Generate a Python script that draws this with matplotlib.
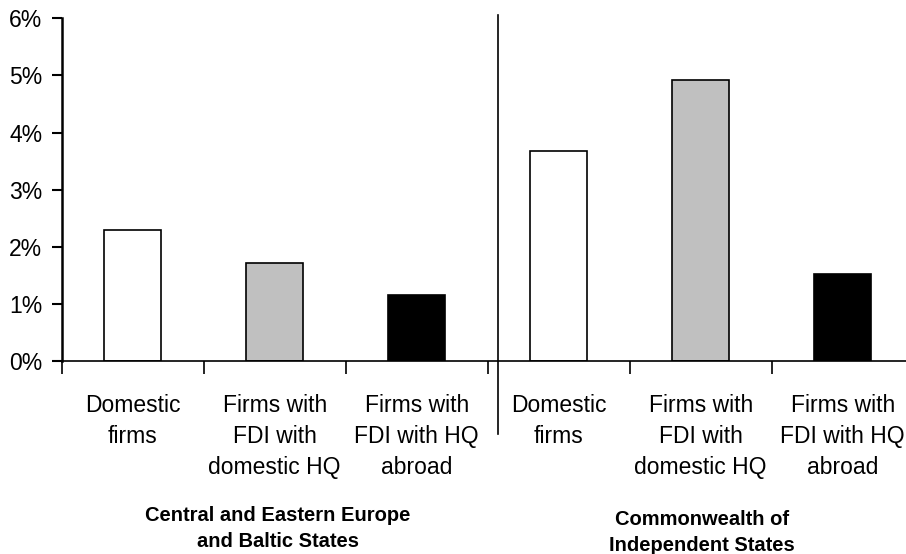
import matplotlib.pyplot as plt
from matplotlib.ticker import PercentFormatter

plt.rcParams['font.family'] = ['Liberation Sans', 'DejaVu Sans']

# categories and values (share, %)
categories = ["Domestic\nfirms", "Firms with\nFDI with\ndomestic HQ", "Firms with\nFDI with HQ\nabroad",
              "Domestic\nfirms", "Firms with\nFDI with\ndomestic HQ", "Firms with\nFDI with HQ\nabroad"]
values = [2.29, 1.71, 1.15, 3.68, 4.92, 1.53]
colors = ["white", "#c0c0c0", "black", "white", "#c0c0c0", "black"]
groups = ["Central and Eastern Europe\nand Baltic States", "Commonwealth of\nIndependent States"]

fig = plt.figure(figsize=(9.06, 5.54), dpi=100)
ax = fig.add_axes([0.0681, 0.3484, 0.9404, 0.6186])

x = range(len(values))
ax.bar(x, values, width=0.4, color=colors, edgecolor="black", linewidth=1.2)

ax.set_xlim(-0.5, 5.5)
ax.set_ylim(0, 6)
ax.yaxis.set_major_formatter(PercentFormatter(decimals=0))
ax.set_yticks(range(0, 7))
ax.tick_params(axis="y", length=7, width=1.5, labelsize=16.5, pad=7, direction="out")

# category labels at bar centres, tick marks at boundaries
ax.set_xticks(list(x))
ax.set_xticklabels(categories, fontsize=16.5, linespacing=1.43)
ax.tick_params(axis="x", which="major", length=0, pad=24)
ax.set_xticks([i - 0.5 for i in range(6)], minor=True)
ax.tick_params(axis="x", which="minor", length=9, width=1.2, direction="out")

for s in ["top", "right"]:
    ax.spines[s].set_visible(False)
ax.spines["left"].set_linewidth(1.8)
ax.spines["bottom"].set_linewidth(1.2)

# divider between the two regions
ax.plot([2.576, 2.576], [-1.28, 6.05], color="black", lw=1.2, clip_on=False)

# group labels
ax.text(0.2533, -0.424, groups[0], transform=ax.transAxes, ha="center", va="top",
        fontsize=14.5, fontweight="bold", linespacing=1.45)
ax.text(0.7515, -0.436, groups[1], transform=ax.transAxes, ha="center", va="top",
        fontsize=14.5, fontweight="bold", linespacing=1.45)

fig.savefig("out.png", dpi=100)
